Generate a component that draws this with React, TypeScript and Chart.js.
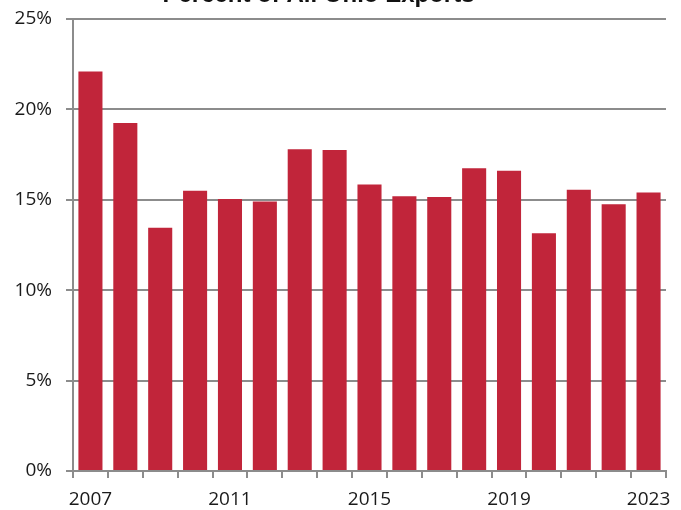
import React, { useEffect, useRef } from "react";
import { Chart, registerables } from "chart.js";

Chart.register(...registerables);

const years = ["2007","2008","2009","2010","2011","2012","2013","2014","2015","2016","2017","2018","2019","2020","2021","2022","2023"];
const shares = [22.1, 19.25, 13.45, 15.5, 15.05, 14.9, 17.8, 17.75, 15.85, 15.2, 15.15, 16.75, 16.6, 13.15, 15.55, 14.75, 15.4];
const yTicks = [0, 5, 10, 15, 20, 25];
const titleText = "Percent of All Ohio Exports";

const OFFSET = 24;
const CANVAS_H = 540;
const AXIS = "#8c8c8c";
const FONT = "'Open Sans', 'Liberation Sans', Arial, sans-serif";

const titlePlugin = {
  id: "cutTitle",
  afterDraw(chart: any) {
    const ctx = chart.ctx;
    const a = chart.chartArea;
    ctx.save();
    ctx.font = "bold 24px 'Liberation Sans', Arial, sans-serif";
    ctx.fillStyle = "#111";
    ctx.textAlign = "center";
    ctx.textBaseline = "alphabetic";
    ctx.fillText(titleText, a.left + (a.right - a.left) * 0.414, a.top - 17);
    ctx.restore();
  },
};

export default function App() {
  const ref = useRef<HTMLCanvasElement>(null);
  useEffect(() => {
    if (!ref.current) return;
    const chart = new Chart(ref.current, {
      type: "bar",
      data: {
        labels: years,
        datasets: [
          {
            data: shares,
            backgroundColor: "#C1253A",
            barPercentage: 0.69,
            categoryPercentage: 1,
          },
        ],
      },
      options: {
        animation: false,
        responsive: true,
        maintainAspectRatio: false,
        layout: { padding: { top: 19 + OFFSET, right: 15, left: 0, bottom: 0 } },
        plugins: { legend: { display: false }, tooltip: { enabled: false }, title: { display: false } },
        scales: {
          x: {
            grid: { display: true, offset: true, drawOnChartArea: false, drawTicks: true, tickLength: 7, color: AXIS, lineWidth: 2 },
            border: { display: true, color: AXIS, width: 2 },
            ticks: {
              autoSkip: false,
              maxRotation: 0,
              padding: 10,
              color: "#1a1a1a",
              font: { family: FONT, size: 19 },
              callback: (_v: any, i: number) => (i % 4 === 0 ? years[i] : ""),
            },
            afterFit: (s: any) => {
              s.height = CANVAS_H - (471 + OFFSET);
            },
          },
          y: {
            min: 0,
            max: 25,
            afterBuildTicks: (s: any) => {
              s.ticks = yTicks.map((v) => ({ value: v }));
            },
            grid: { color: AXIS, lineWidth: 2, tickLength: 7, drawTicks: true },
            border: { display: true, color: AXIS, width: 2 },
            ticks: {
              padding: 14,
              color: "#1a1a1a",
              font: { family: FONT, size: 19 },
              callback: (v: any) => v + "%",
            },
            afterFit: (s: any) => {
              s.width = 73;
            },
          },
        },
      },
      plugins: [titlePlugin],
    });
    return () => chart.destroy();
  }, []);
  return (
    <div style={{ position: "fixed", left: 0, top: 0, width: 681, height: 510, overflow: "hidden", background: "#fff" }}>
      <div style={{ position: "absolute", left: 0, top: -OFFSET, width: 681, height: CANVAS_H }}>
        <canvas ref={ref} />
      </div>
    </div>
  );
}
